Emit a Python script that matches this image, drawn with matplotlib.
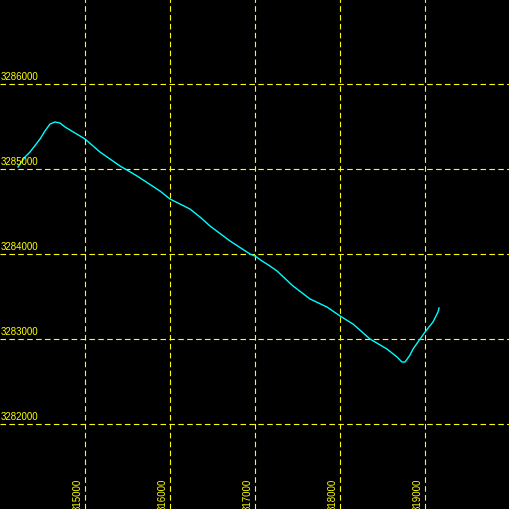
import matplotlib
matplotlib.use("Agg")
import matplotlib.pyplot as plt
import numpy as np

# track coordinates (easting, northing)
east = [314212, 314294, 314353, 314471, 314529, 314588, 314647, 314706, 314765,
        315000, 315176, 315412, 315494, 315612, 315882, 316000, 316235, 316353,
        316471, 316706, 316941, 317000, 317082, 317176, 317259, 317447, 317647,
        317847, 318000, 318153, 318353, 318553, 318671, 318729, 318765, 318824,
        318859, 319000, 319094, 319153, 319165]
north = [3285024, 3285141, 3285200, 3285353, 3285447, 3285529, 3285553, 3285541,
         3285494, 3285353, 3285200, 3285035, 3284988, 3284918, 3284741, 3284647,
         3284529, 3284435, 3284329, 3284153, 3284000, 3283976, 3283918, 3283859,
         3283800, 3283624, 3283471, 3283376, 3283271, 3283176, 3283000, 3282882,
         3282788, 3282729, 3282729, 3282812, 3282882, 3283082, 3283200, 3283318,
         3283365]

x_grid = [315000, 316000, 317000, 318000, 319000]
y_grid = [3286000, 3285000, 3284000, 3283000, 3282000]

xlim = (314000, 320000)
ylim = (3281000, 3287000)
px = (xlim[1] - xlim[0]) / 510.0  # data units per pixel

fig = plt.figure(figsize=(5.1, 5.1), dpi=100, facecolor="black")
ax = fig.add_axes([0, 0, 1, 1])
ax.set_facecolor("black")
ax.set_xlim(*xlim)
ax.set_ylim(*ylim)
ax.axis("off")

grid_kw = dict(color="#ffff00", lw=0.8, linestyle=(0, (5, 3)), zorder=1)
for gx in x_grid:
    ax.axvline(gx, **grid_kw)
    ax.text(gx - 2 * px, ylim[0] - 1 * px, str(gx), rotation=90, color="#ffff00",
            fontsize=7, family="Liberation Sans", ha="right", va="bottom",
            clip_on=False)
for gy in y_grid:
    ax.axhline(gy, **grid_kw)
    ax.text(xlim[0] + 1 * px, gy + 3 * px, str(gy), color="#ffff00",
            fontsize=7, family="Liberation Sans", ha="left", va="bottom")

ax.plot(east, north, color="#00ffff", lw=1.0, zorder=2)

fig.savefig("out.png", dpi=100, facecolor="black")
